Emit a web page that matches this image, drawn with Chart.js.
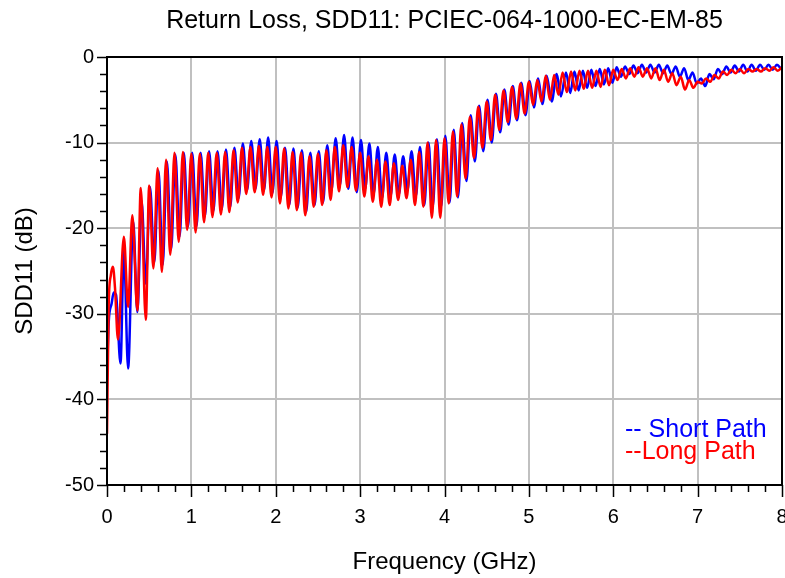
<!DOCTYPE html>
<html><head><meta charset="utf-8">
<script src="https://cdn.jsdelivr.net/npm/chart.js@4/dist/chart.umd.min.js"></script>
<style>html,body{margin:0;padding:0;background:#fff}#wrap{width:785px;height:578px}</style>
</head><body><div id="wrap"><canvas id="c" width="785" height="578"></canvas></div>
<script>
const chartTitle = 'Return Loss, SDD11: PCIEC-064-1000-EC-EM-85';
const xAxisTitle = 'Frequency (GHz)';
const yAxisTitle = 'SDD11 (dB)';
const seriesNames = ['-- Short Path', '--Long Path'];
const xTickValues = [0,1,2,3,4,5,6,7,8];
const yTickValues = [0,-10,-20,-30,-40,-50];

// Short Path (blue): frequency (GHz) and SDD11 (dB) at the read extrema
const shortFreq = [0,0.02,0.055,0.08,0.107,0.16,0.2,0.25,0.31,0.36,0.41,0.46,0.51,0.56,0.61,0.66,0.71,0.76,0.81,0.86,0.91,0.96,1.01,1.06,1.11,1.16,1.21,1.26,1.31,1.36,1.41,1.46,1.51,1.56,1.61,1.66,1.71,1.76,1.81,1.86,1.91,1.96,2.01,2.06,2.11,2.16,2.21,2.26,2.31,2.36,2.41,2.46,2.51,2.56,2.61,2.66,2.71,2.76,2.81,2.86,2.91,2.96,3.01,3.06,3.11,3.16,3.21,3.26,3.31,3.36,3.41,3.46,3.51,3.56,3.61,3.66,3.71,3.76,3.81,3.86,3.91,3.96,4.01,4.06,4.11,4.16,4.21,4.26,4.31,4.36,4.41,4.46,4.51,4.56,4.61,4.66,4.71,4.76,4.81,4.86,4.91,4.96,5.01,5.06,5.11,5.16,5.21,5.27,5.33,5.38,5.44,5.49,5.54,5.59,5.64,5.69,5.74,5.79,5.84,5.89,5.94,5.99,6.04,6.09,6.14,6.19,6.24,6.29,6.34,6.39,6.44,6.49,6.54,6.59,6.64,6.69,6.74,6.79,6.84,6.89,6.94,6.99,7.04,7.09,7.14,7.19,7.24,7.29,7.34,7.39,7.44,7.49,7.54,7.59,7.64,7.69,7.74,7.79,7.84,7.89,7.94,7.99];
const shortDb = [-37,-31,-28.8,-27.5,-27.8,-35.8,-22.3,-36.4,-19.2,-29.8,-16.8,-26.5,-15.2,-24.0,-13.3,-24.3,-12.2,-22.5,-11.4,-21.0,-11.2,-19.8,-11.2,-19.8,-11.2,-18.6,-11.0,-18.0,-11.0,-17.8,-10.8,-17.5,-10.6,-16.5,-10.1,-15.6,-9.8,-15.4,-9.6,-15.6,-9.4,-15.9,-9.8,-16.3,-10.6,-17.3,-10.7,-17.6,-10.9,-18.1,-11.2,-17.3,-11.0,-17.0,-10.3,-15.6,-9.5,-15.0,-9.1,-15.4,-9.4,-15.8,-9.7,-15.4,-10.1,-16.0,-10.5,-16.5,-11.2,-16.3,-11.4,-16.0,-11.6,-15.6,-11.0,-16.3,-10.5,-17.3,-10.0,-17.5,-9.6,-17.5,-9.2,-17.0,-8.5,-16.4,-7.7,-14.5,-6.8,-12.2,-5.7,-11.0,-5.0,-10.0,-4.3,-8.8,-3.8,-7.9,-3.4,-7.4,-3.0,-6.8,-2.8,-5.9,-2.5,-5.5,-2.2,-5.2,-2.0,-4.6,-1.8,-4.2,-1.7,-3.9,-1.6,-3.6,-1.5,-3.4,-1.4,-3.2,-1.3,-3.0,-1.2,-2.3,-1.1,-2.0,-1.0,-1.9,-0.9,-1.8,-0.9,-1.8,-0.9,-1.9,-1.0,-2.0,-1.1,-2.3,-1.3,-2.7,-1.8,-3.1,-2.5,-3.4,-2.0,-2.6,-1.4,-2.0,-1.1,-1.8,-1.0,-1.7,-0.9,-1.7,-0.9,-1.6,-0.9,-1.5,-0.9,-1.5,-0.9,-1.4];

// Long Path (red)
const longFreq = [0,0.02,0.045,0.07,0.095,0.13,0.2,0.25,0.3,0.36,0.4,0.46,0.5,0.55,0.6,0.65,0.7,0.75,0.8,0.85,0.9,0.95,1.0,1.05,1.1,1.15,1.2,1.25,1.3,1.35,1.4,1.45,1.5,1.55,1.6,1.65,1.7,1.75,1.8,1.85,1.9,1.95,2.0,2.05,2.1,2.15,2.2,2.25,2.3,2.35,2.4,2.45,2.5,2.55,2.6,2.65,2.7,2.75,2.8,2.85,2.9,2.95,3.0,3.05,3.1,3.15,3.2,3.25,3.3,3.35,3.4,3.45,3.5,3.55,3.6,3.65,3.7,3.75,3.8,3.85,3.9,3.95,4.0,4.05,4.1,4.15,4.2,4.25,4.3,4.35,4.4,4.45,4.5,4.55,4.6,4.65,4.7,4.75,4.8,4.85,4.9,4.95,5.0,5.05,5.1,5.15,5.2,5.25,5.3,5.35,5.4,5.45,5.5,5.55,5.6,5.65,5.7,5.75,5.8,5.85,5.9,5.95,6.0,6.05,6.1,6.15,6.2,6.25,6.3,6.35,6.4,6.45,6.5,6.55,6.6,6.65,6.7,6.75,6.8,6.85,6.9,6.95,7.0,7.05,7.1,7.15,7.2,7.25,7.3,7.35,7.4,7.45,7.5,7.55,7.6,7.65,7.7,7.75,7.8,7.85,7.9,7.95,8.0];
const longDb = [-44,-29,-25.5,-24.5,-27,-33,-21,-29.2,-18.5,-29.6,-15.3,-30.7,-15.0,-24.7,-13.0,-25.1,-12.0,-23.1,-11.2,-21.6,-11.1,-20.2,-11.3,-20.5,-11.3,-19.3,-11.2,-18.7,-11.2,-18.4,-11.1,-18.1,-10.9,-17.0,-10.6,-16.0,-10.5,-15.8,-10.4,-16.1,-10.5,-16.4,-10.5,-17.1,-10.7,-17.7,-11.1,-17.9,-11.2,-18.5,-11.6,-17.5,-11.3,-17.3,-10.9,-16.7,-10.5,-15.7,-10.3,-15.2,-10.5,-15.6,-11.2,-16.3,-11.6,-16.9,-12.0,-17.5,-12.2,-17.3,-12.4,-16.7,-12.7,-16.5,-12.0,-17.3,-11.1,-17.5,-10.0,-18.8,-9.7,-18.8,-9.5,-17.1,-8.7,-16.3,-7.9,-14.2,-7.0,-11.8,-5.8,-10.6,-5.2,-9.7,-4.4,-8.5,-3.9,-7.6,-3.5,-7.2,-3.1,-6.6,-2.9,-5.6,-2.7,-5.2,-2.2,-5.0,-2.1,-4.4,-1.8,-4.1,-1.7,-3.9,-1.6,-3.7,-1.6,-3.6,-1.6,-3.5,-1.5,-3.3,-1.5,-2.7,-1.4,-2.5,-1.3,-2.3,-1.2,-2.3,-1.3,-2.5,-1.3,-2.7,-1.5,-2.9,-1.9,-3.3,-2.3,-3.8,-2.7,-3.6,-2.9,-3.1,-2.5,-2.9,-2.1,-2.5,-1.7,-2.1,-1.5,-1.9,-1.4,-1.9,-1.4,-1.7,-1.4,-1.7,-1.3,-1.6,-1.2,-1.6,-1.2];

const FONT = "'Liberation Sans', Arial, sans-serif";

const framePlugin = {
  id: 'frameTicks',
  afterDatasetsDraw(chart) {
    const {ctx, chartArea: a, scales: {x, y}} = chart;
    ctx.save();
    ctx.strokeStyle = '#000';
    ctx.lineWidth = 2;
    ctx.strokeRect(a.left, a.top, a.right - a.left, a.bottom - a.top);
    ctx.lineWidth = 1.5;
    ctx.beginPath();
    for (let i = 0; i <= 40; i++) {
      const px = Math.round(x.getPixelForValue(i * 0.2)) + 0.5;
      const len = i % 5 === 0 ? 12 : 7;
      ctx.moveTo(px, a.bottom); ctx.lineTo(px, a.bottom + len);
    }
    for (let i = 0; i <= 25; i++) {
      const py = Math.round(y.getPixelForValue(-2 * i)) + 0.5;
      const len = i % 5 === 0 ? 10 : 7;
      ctx.moveTo(a.left, py); ctx.lineTo(a.left - len, py);
    }
    ctx.stroke();
    ctx.restore();
  },
  afterDraw(chart) {
    const {ctx} = chart;
    ctx.save();
    ctx.font = '25px ' + FONT;
    ctx.textBaseline = 'middle';
    ctx.textAlign = 'left';
    ctx.fillStyle = '#0000ff';
    ctx.fillText(seriesNames[0], 625, 430);
    ctx.fillStyle = '#ff0000';
    ctx.fillText(seriesNames[1], 625, 452);
    ctx.restore();
  }
};

new Chart(document.getElementById('c'), {
  type: 'line',
  data: {
    datasets: [
      { label: 'Long Path', data: longFreq.map((f, i) => ({x: f, y: longDb[i]})), borderColor: '#ff0000', borderWidth: 2.5, pointRadius: 0, cubicInterpolationMode: 'monotone', order: 0 },
      { label: 'Short Path', data: shortFreq.map((f, i) => ({x: f, y: shortDb[i]})), borderColor: '#0000ff', borderWidth: 2.5, pointRadius: 0, cubicInterpolationMode: 'monotone', order: 1 }
    ]
  },
  options: {
    responsive: false,
    devicePixelRatio: 1,
    animation: false,
    layout: { padding: { left: 0, right: 3, top: 0, bottom: 0 } },
    plugins: {
      legend: { display: false },
      tooltip: { enabled: false },
      title: { display: true, fullSize: false, text: chartTitle, color: '#000', font: { family: FONT, size: 25, weight: 'normal' }, padding: { top: 6, bottom: 21 } }
    },
    scales: {
      x: {
        type: 'linear', min: 0, max: 8,
        afterBuildTicks: s => { s.ticks = xTickValues.map(v => ({value: v})); },
        ticks: { color: '#000', font: { family: FONT, size: 20 }, padding: 8, maxRotation: 0, autoSkip: false },
        grid: { color: c => (c.tick && c.tick.value > 0 && c.tick.value < 8) ? '#c0c0c0' : 'rgba(0,0,0,0)', lineWidth: 2, tickLength: 12, tickColor: 'rgba(0,0,0,0)' },
        border: { display: false },
        title: { display: true, text: xAxisTitle, color: '#000', font: { family: FONT, size: 24 }, padding: { top: 0, bottom: 1 } },
        afterFit: s => { s.height = 93; s.paddingLeft = 0; s.paddingRight = 0; }
      },
      y: {
        type: 'linear', min: -50, max: 0,
        afterBuildTicks: s => { s.ticks = yTickValues.map(v => ({value: v})); },
        ticks: { color: '#000', font: { family: FONT, size: 20 }, padding: 3, autoSkip: false },
        grid: { color: c => (c.tick && c.tick.value > -50 && c.tick.value < 0) ? '#c0c0c0' : 'rgba(0,0,0,0)', lineWidth: 2, tickLength: 10, tickColor: 'rgba(0,0,0,0)' },
        border: { display: false },
        title: { display: true, text: yAxisTitle, color: '#000', font: { family: FONT, size: 24 }, padding: { top: 11, bottom: 0 } },
        afterFit: s => { s.width = 107; s.paddingTop = 0; s.paddingBottom = 0; }
      }
    }
  },
  plugins: [framePlugin]
});
</script>
</body></html>
